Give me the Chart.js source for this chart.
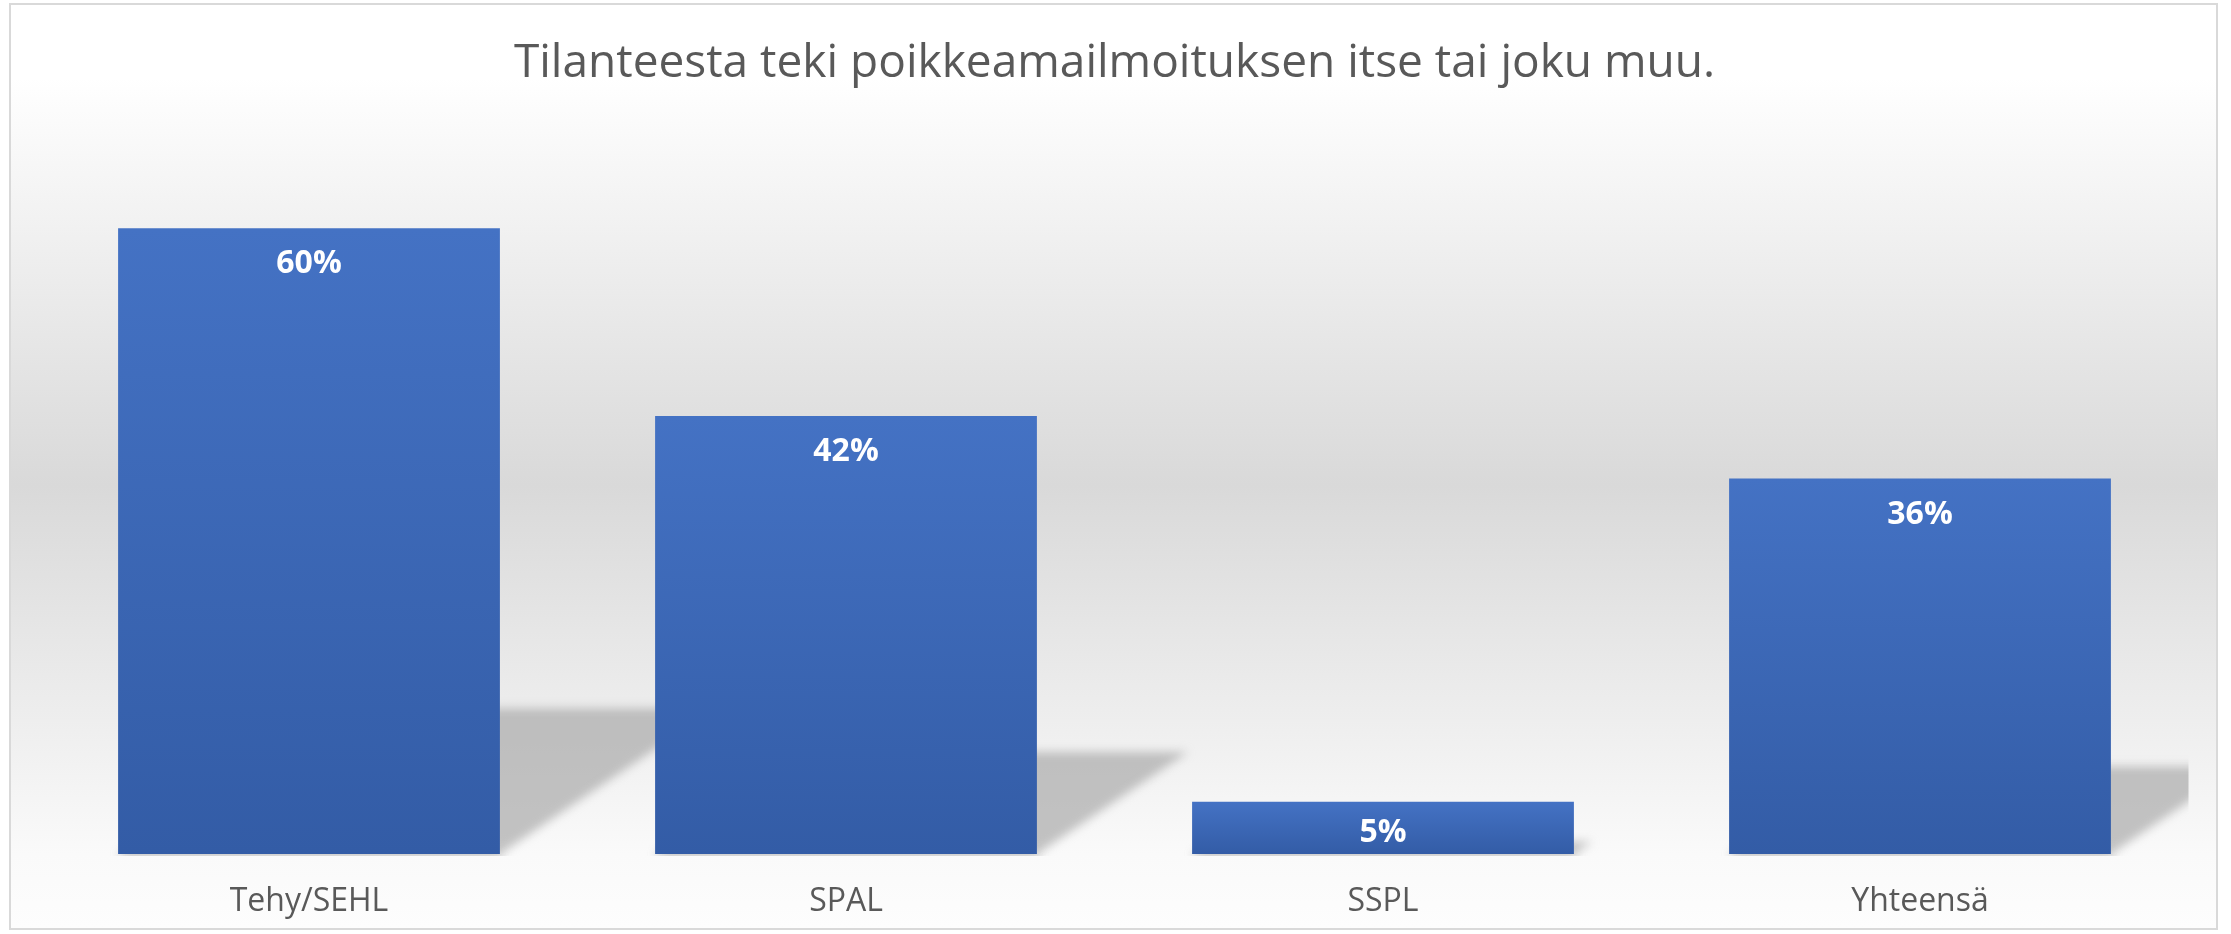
<!DOCTYPE html>
<html>
<head>
<meta charset="utf-8">
<script src="https://cdn.jsdelivr.net/npm/chart.js@4/dist/chart.umd.min.js"></script>
<style>
  html, body { margin: 0; padding: 0; background: #ffffff; }
  #wrap { width: 2231px; height: 934px; position: relative; }
</style>
</head>
<body>
<div id="wrap"><canvas id="c" width="2231" height="934"></canvas></div>
<script>
const categories = ['Tehy/SEHL', 'SPAL', 'SSPL', 'Yhteensä'];
const values = [0.60, 0.42, 0.05, 0.36];
const valueLabels = ['60%', '42%', '5%', '36%'];
const chartTitle = 'Tilanteesta teki poikkeamailmoituksen itse tai joku muu.';

const FONT = "'Open Sans', 'Noto Sans', sans-serif";

const frameBg = {
  id: 'frameBg',
  beforeDraw(chart) {
    const ctx = chart.ctx;
    const x0 = 10, y0 = 4, x1 = 2217, y1 = 929;
    ctx.save();
    const g = ctx.createLinearGradient(0, y0, 0, y1);
    g.addColorStop(0, '#ffffff');
    g.addColorStop(0.08, '#ffffff');
    g.addColorStop(0.52, '#d9d9d9');
    g.addColorStop(0.92, '#fafafa');
    g.addColorStop(1, '#fdfdfd');
    ctx.fillStyle = g;
    ctx.fillRect(x0, y0, x1 - x0, y1 - y0);
    ctx.strokeStyle = '#d9d9d9';
    ctx.lineWidth = 2;
    ctx.strokeRect(x0, y0, x1 - x0, y1 - y0);
    ctx.restore();
  }
};

const floorShadow = {
  id: 'floorShadow',
  beforeDatasetsDraw(chart) {
    const ctx = chart.ctx;
    const area = chart.chartArea;
    const meta = chart.getDatasetMeta(0);
    ctx.save();
    ctx.beginPath();
    ctx.rect(area.left, area.top, area.right - area.left, area.bottom - area.top + 2);
    ctx.clip();
    ctx.filter = 'blur(5px)';
    ctx.fillStyle = 'rgba(160,160,160,0.62)';
    meta.data.forEach(bar => {
      const p = bar.getProps(['x', 'y', 'base', 'width'], true);
      const left = p.x - p.width / 2, right = p.x + p.width / 2;
      const h = p.base - p.y;
      const dy = h * 0.233, dx = dy * 1.48;
      ctx.beginPath();
      ctx.moveTo(left, p.base);
      ctx.lineTo(right, p.base);
      ctx.lineTo(right + dx, p.base - dy);
      ctx.lineTo(left + dx, p.base - dy);
      ctx.closePath();
      ctx.fill();
      ctx.fillRect(left + 2, p.base, p.width, 4);
    });
    ctx.restore();
  }
};

const insideLabels = {
  id: 'insideLabels',
  afterDatasetsDraw(chart) {
    const ctx = chart.ctx;
    const meta = chart.getDatasetMeta(0);
    ctx.save();
    ctx.font = "bold 32px " + FONT;
    ctx.fillStyle = '#ffffff';
    ctx.textAlign = 'center';
    ctx.textBaseline = 'middle';
    meta.data.forEach((bar, i) => {
      const p = bar.getProps(['x', 'y', 'base'], true);
      const off = Math.min(36, (p.base - p.y) * 0.6);
      ctx.fillText(valueLabels[i], p.x, p.y + off);
    });
    ctx.restore();
  }
};

function barGradient(context) {
  const chart = context.chart;
  if (!chart.chartArea || context.dataIndex === undefined) return '#4472c4';
  const ys = chart.scales.y;
  const top = ys.getPixelForValue(values[context.dataIndex]);
  const base = ys.getPixelForValue(0);
  const g = chart.ctx.createLinearGradient(0, top, 0, base);
  g.addColorStop(0, '#4472c4');
  g.addColorStop(1, '#335ca6');
  return g;
}

new Chart(document.getElementById('c'), {
  type: 'bar',
  data: {
    labels: categories,
    datasets: [{
      data: values,
      backgroundColor: barGradient,
      borderWidth: 0,
      barPercentage: 0.711,
      categoryPercentage: 1.0
    }]
  },
  options: {
    responsive: false,
    animation: false,
    events: [],
    layout: { padding: { top: 36.4, left: 40.5, right: 42.5, bottom: 13 } },
    plugins: {
      legend: { display: false },
      tooltip: { enabled: false },
      title: {
        display: true,
        text: chartTitle,
        color: '#595959',
        font: { family: FONT, size: 46, weight: 'normal', lineHeight: 1.2 },
        padding: { top: 0, bottom: 32.4 }
      }
    },
    scales: {
      x: {
        grid: { display: false, drawTicks: false },
        border: { display: false },
        ticks: {
          color: '#595959',
          padding: 29,
          font: { family: FONT, size: 32, lineHeight: 1.2 }
        },
        afterFit(scale) { scale.height = 67; }
      },
      y: {
        display: false,
        min: 0,
        max: 0.7
      }
    }
  },
  plugins: [frameBg, floorShadow, insideLabels]
});
</script>
</body>
</html>
